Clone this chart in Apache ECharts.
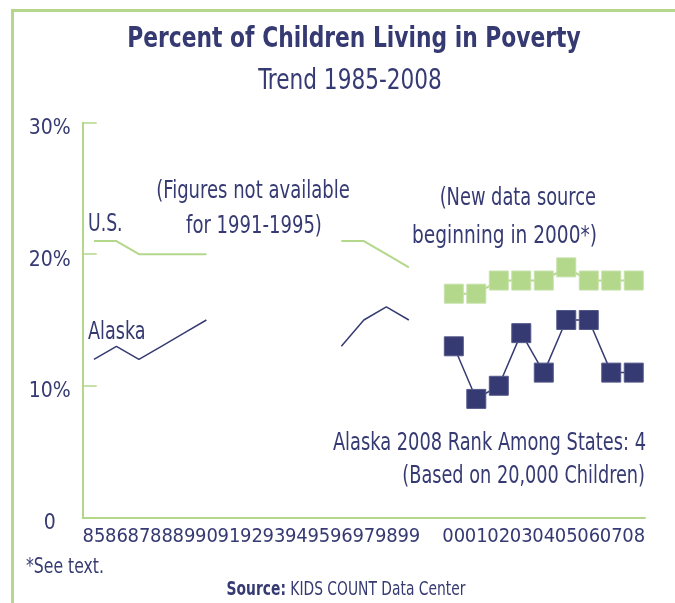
<!DOCTYPE html>
<html>
<head>
<meta charset="utf-8">
<script src="https://cdn.jsdelivr.net/npm/echarts@6/dist/echarts.min.js"></script>
<style>
  html, body { margin: 0; padding: 0; background: #fff; }
  #chart { width: 675px; height: 603px; }
</style>
</head>
<body>
<div id="chart"></div>
<script>
// 年份（91-95 无数据，99 与 00 之间留一个空位）
var years = ['85', '86', '87', '88', '89', '90', '91', '92', '93', '94', '95', '96', '97', '98', '99',
  '', '00', '01', '02', '03', '04', '05', '06', '07', '08'];
var usOld = [21, 21, 20, 20, 20, 20, null, null, null, null, null, 21, 21, 20, 19];
var alaskaOld = [12, 13, 12, 13, 14, 15, null, null, null, null, null, 13, 15, 16, 15];
// 2000 年起的新数据源
var usNew = [17, 17, 18, 18, 18, 19, 18, 18, 18];
var alaskaNew = [13, 9, 10, 14, 11, 15, 15, 11, 11];

var NAVY = '#363a72';
var GREEN = '#b3d78b';
var FONT = '"DejaVu Sans Condensed", "DejaVu Sans", sans-serif';

// 新数据放到 00 开始的位置
function padNew(arr) {
  var out = [];
  for (var i = 0; i < years.length - arr.length; i++) out.push(null);
  return out.concat(arr);
}

// 文字横向压缩一点，接近原图的窄体字
function txt(x, y, text, size, align, sx, extra) {
  var style = {
    text: text,
    x: 0,
    y: 0,
    fill: NAVY,
    font: (extra && extra.bold ? 'bold ' : '') + size + 'px ' + FONT,
    align: align || 'center',
    verticalAlign: 'middle'
  };
  if (extra && extra.rich) style.rich = extra.rich;
  return { type: 'text', x: x, y: y, scaleX: sx || 1, style: style, z: 10 };
}

var chart = echarts.init(document.getElementById('chart'), null, { renderer: 'canvas' });

chart.setOption({
  backgroundColor: '#ffffff',
  animation: false,
  grid: { left: 82.7, right: 30, top: 122.7, bottom: 85.7, containLabel: false },
  xAxis: {
    type: 'category',
    data: years,
    boundaryGap: true,
    axisLine: { lineStyle: { color: GREEN, width: 2 } },
    axisTick: { inside: true, length: 7, lineStyle: { color: GREEN, width: 1.5 } },
    axisLabel: { color: NAVY, fontFamily: FONT, fontSize: 20, margin: 9, interval: 0 },
    splitLine: { show: false }
  },
  yAxis: {
    type: 'value',
    min: 0,
    max: 30,
    interval: 10,
    axisLine: { show: true, lineStyle: { color: GREEN, width: 2 } },
    axisTick: { show: true, inside: true, length: 14, lineStyle: { color: GREEN, width: 1.5 } },
    axisLabel: {
      color: NAVY, fontFamily: FONT, fontSize: 21, align: 'center', margin: 33,
      verticalAlign: 'top', lineHeight: 12,
      formatter: function (v) { return v === 0 ? '0' : v + '%'; }
    },
    splitLine: { show: false }
  },
  series: [
    {
      name: 'U.S.',
      type: 'line',
      data: usOld,
      showSymbol: false,
      connectNulls: false,
      lineStyle: { color: GREEN, width: 2 },
      itemStyle: { color: GREEN }
    },
    {
      name: 'Alaska',
      type: 'line',
      data: alaskaOld,
      showSymbol: false,
      connectNulls: false,
      lineStyle: { color: NAVY, width: 1.5 },
      itemStyle: { color: NAVY }
    },
    {
      name: 'U.S. new',
      type: 'line',
      data: padNew(usNew),
      symbol: 'rect',
      symbolSize: 19,
      lineStyle: { color: GREEN, width: 2 },
      itemStyle: { color: GREEN, borderColor: '#c6e2a8', borderWidth: 1 }
    },
    {
      name: 'Alaska new',
      type: 'line',
      data: padNew(alaskaNew),
      symbol: 'rect',
      symbolSize: 19,
      lineStyle: { color: NAVY, width: 1.5 },
      itemStyle: { color: NAVY, borderColor: '#55598a', borderWidth: 1 }
    }
  ],
  graphic: [
    // 外框（左、上）
    { type: 'line', shape: { x1: 12.5, y1: 9, x2: 12.5, y2: 603 }, style: { stroke: GREEN, lineWidth: 3 } },
    { type: 'line', shape: { x1: 11, y1: 10.5, x2: 675, y2: 10.5 }, style: { stroke: GREEN, lineWidth: 3 } },
    txt(354, 40, 'Percent of Children Living in Poverty', 28, 'center', 0.866, { bold: true }),
    txt(350, 81, 'Trend 1985-2008', 29, 'center', 0.83),
    txt(253, 192, '(Figures not available', 24, 'center', 0.835),
    txt(254, 227, 'for 1991-1995)', 24, 'center', 0.835),
    txt(88, 225, 'U.S.', 24, 'left', 0.8),
    txt(88, 333, 'Alaska', 24, 'left', 0.815),
    txt(596, 199, '(New data source', 24, 'right', 0.825),
    txt(597, 237, 'beginning in 2000*)', 24, 'right', 0.86),
    txt(646, 444, 'Alaska 2008 Rank Among States: 4', 24, 'right', 0.825),
    txt(645, 477, '(Based on 20,000 Children)', 24, 'right', 0.82),
    txt(26, 568, '*See text.', 21, 'left', 0.83),
    txt(346, 590, '{b|Source:} KIDS COUNT Data Center', 20, 'center', 0.77, {
      rich: { b: { fontWeight: 'bold', fontSize: 20, fontFamily: FONT, fill: NAVY } }
    })
  ]
});
</script>
</body>
</html>
